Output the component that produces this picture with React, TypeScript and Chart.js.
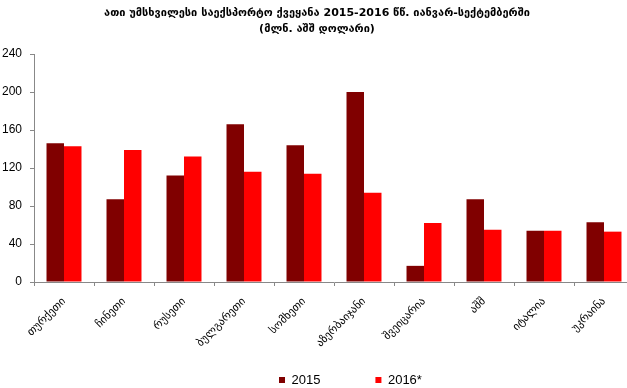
import React, { useEffect, useRef } from "react";
import { Chart, registerables } from "chart.js";

Chart.register(...registerables);

const titleLines = [
  "ათი უმსხვილესი საექსპორტო ქვეყანა 2015-2016 წწ. იანვარ-სექტემბერში",
  "(მლნ. აშშ დოლარი)",
];
const categories = [
  "თურქეთი",
  "ჩინეთი",
  "რუსეთი",
  "ბულგარეთი",
  "სომხეთი",
  "აზერბაიჯანი",
  "შვეიცარია",
  "აშშ",
  "იტალია",
  "უკრაინა",
];
const seriesNames = ["2015", "2016*"];
const values2015 = [146, 87, 112, 166, 144, 200, 17, 87, 54, 63];
const values2016 = [143, 139, 132, 116, 114, 94, 62, 55, 54, 53];
const yTicks = [0, 40, 80, 120, 160, 200, 240];

const W = 640;
const H = 388;

export default function App() {
  const ref = useRef<HTMLCanvasElement | null>(null);

  useEffect(() => {
    if (!ref.current) return;
    const legendShift = {
      id: "legendShift",
      afterLayout(chart: any) {
        const lg = chart.legend;
        if (!lg || !lg.lineWidths) return;
        const pad = lg.options.labels.padding;
        const x0 = (lg.left + pad + lg.right - lg.lineWidths[0]) / 2;
        const dx = 279 - x0;
        lg.left += dx;
        lg.right += dx;
        lg.width = lg.right - lg.left;
        const fs = 13;
        const newTop = 380 - fs / 2 - pad;
        lg.top = newTop;
        lg.bottom = H;
        lg.height = lg.bottom - lg.top;
      },
    };
    const chart = new Chart(ref.current, {
      type: "bar",
      data: {
        labels: categories,
        datasets: [
          {
            label: seriesNames[0],
            data: values2015,
            backgroundColor: "#800000",
            borderWidth: 0,
            barPercentage: 1,
            categoryPercentage: 0.583,
          },
          {
            label: seriesNames[1],
            data: values2016,
            backgroundColor: "#FF0000",
            borderWidth: 0,
            barPercentage: 1,
            categoryPercentage: 0.583,
          },
        ],
      },
      options: {
        responsive: false,
        animation: false,
        devicePixelRatio: 1,
        layout: { padding: { left: 0, right: 6, top: 0, bottom: 0 } },
        plugins: {
          tooltip: { enabled: false },
          title: {
            display: true,
            text: titleLines,
            color: "#000",
            font: { family: "DejaVu Sans", size: 11, weight: "bold", lineHeight: "16px" },
            padding: { top: 5, bottom: 17 },
          },
          legend: {
            position: "bottom",
            maxHeight: 30,
            labels: {
              boxWidth: 6,
              boxHeight: 6,
              padding: 55,
              color: "#000",
              font: { family: "Liberation Sans", size: 13 },
            },
          },
        },
        scales: {
          x: {
            grid: {
              drawOnChartArea: false,
              drawTicks: true,
              tickLength: 4,
              color: "#888",
              offset: true,
            },
            border: { display: true, color: "#888" },
            ticks: {
              color: "#000",
              font: { family: "DejaVu Sans", size: 11 },
              minRotation: 45,
              maxRotation: 45,
              autoSkip: false,
              padding: 9,
            },
            afterFit: (s: any) => {
              s.height = 76;
            },
          },
          y: {
            min: 0,
            max: 240,
            afterBuildTicks: (s: any) => {
              s.ticks = yTicks.map((v) => ({ value: v }));
            },
            grid: {
              drawOnChartArea: false,
              drawTicks: true,
              tickLength: 4,
              color: "#888",
            },
            border: { display: true, color: "#888" },
            ticks: {
              color: "#000",
              font: { family: "Liberation Sans", size: 12 },
              padding: 8,
            },
            afterFit: (s: any) => {
              s.width = 34;
            },
          },
        },
      },
      plugins: [legendShift],
    });
    return () => chart.destroy();
  }, []);

  return (
    <div
      style={{
        position: "fixed",
        left: 0,
        top: 0,
        width: 627,
        height: 388,
        overflow: "hidden",
        background: "#fff",
      }}
    >
      <canvas ref={ref} width={W} height={H} style={{ width: W, height: H, display: "block" }} />
    </div>
  );
}
